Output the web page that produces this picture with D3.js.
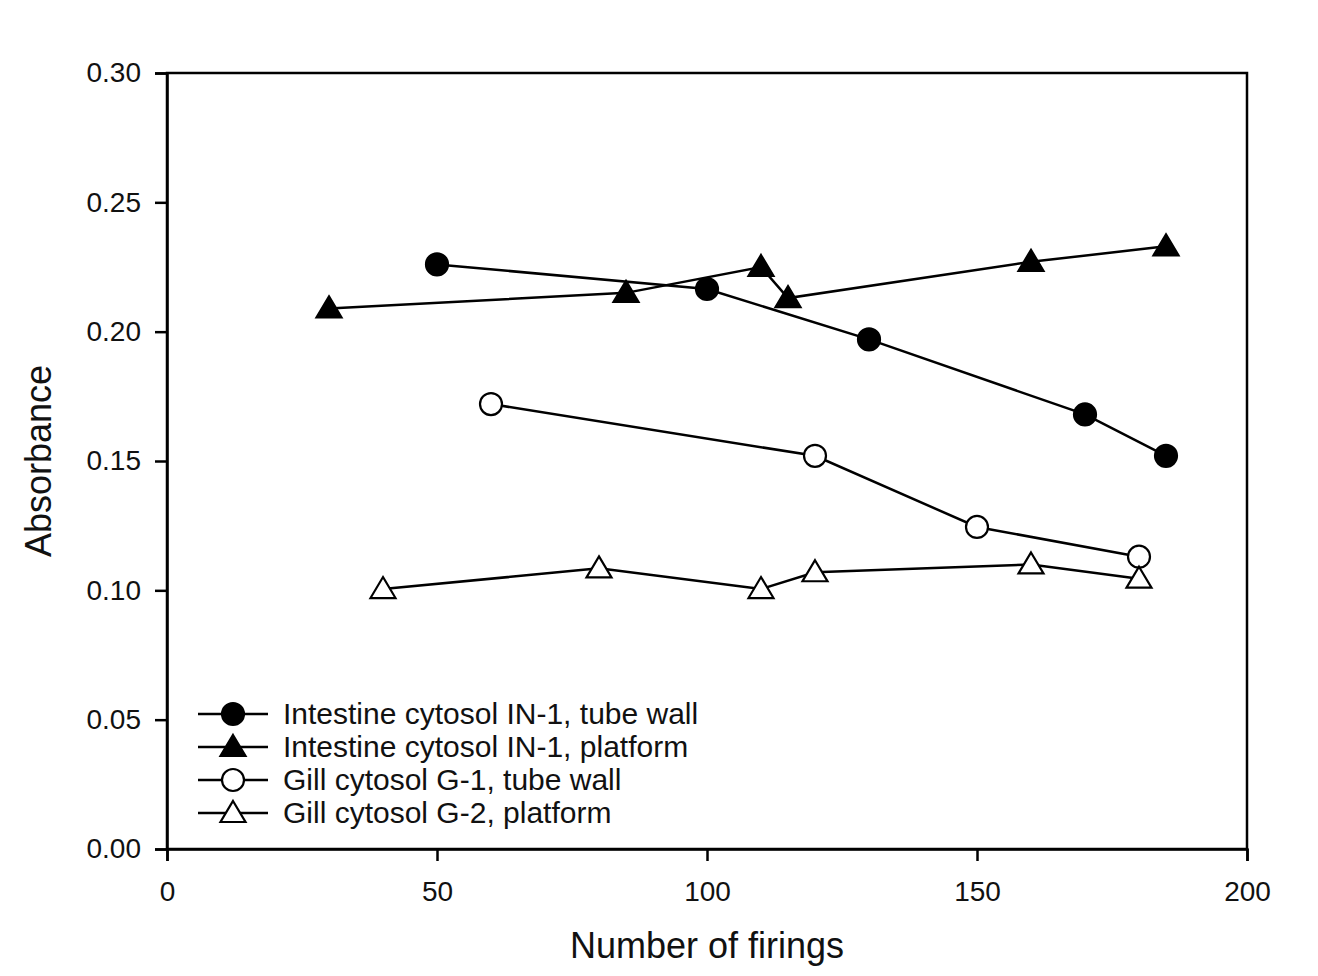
<!DOCTYPE html>
<html>
<head>
<meta charset="utf-8">
<script src="https://cdn.jsdelivr.net/npm/d3@7"></script>
<style>
  body { margin: 0; background: #fff; }
  text { font-family: "Liberation Sans", Arial, sans-serif; fill: #111; }
</style>
</head>
<body>
<div id="chart"></div>
<script>
//Data
var inTubeX = [50, 100, 130, 170, 185];
var inTubeY = [0.226, 0.2165, 0.197, 0.168, 0.152];
var inPlatX = [30, 85, 110, 115, 160, 185];
var inPlatY = [0.209, 0.215, 0.225, 0.213, 0.227, 0.233];
var gTubeX = [60, 120, 150, 180];
var gTubeY = [0.172, 0.152, 0.1245, 0.113];
var gPlatX = [40, 80, 110, 120, 160, 180];
var gPlatY = [0.1005, 0.1085, 0.1005, 0.107, 0.110, 0.1045];

var xTicks = [0, 50, 100, 150, 200];
var yTicks = [0, 0.05, 0.10, 0.15, 0.20, 0.25, 0.30];

var seriesNames = ["Intestine cytosol IN-1, tube wall", "Intestine cytosol IN-1, platform",
                   "Gill cytosol G-1, tube wall", "Gill cytosol G-2, platform"];

//Layout
var W = 1318, H = 976;
var plotLeft = 167, plotRight = 1247, plotTop = 73, plotBottom = 849;

var svg = d3.select("#chart").append("svg")
    .attr("width", W)
    .attr("height", H);

var x = d3.scaleLinear().domain([0, 200]).range([plotLeft, plotRight]);
var y = d3.scaleLinear().domain([0, 0.30]).range([plotBottom, plotTop]);

//Frame
svg.append("rect")
    .attr("x", plotLeft).attr("y", plotTop)
    .attr("width", plotRight - plotLeft).attr("height", plotBottom - plotTop)
    .attr("fill", "none").attr("stroke", "#000").attr("stroke-width", 2.5);

//Axes
var xAxis = svg.append("g")
    .attr("transform", "translate(0," + plotBottom + ")")
    .call(d3.axisBottom(x).tickValues(xTicks).tickSize(12).tickPadding(20).tickFormat(d3.format("d")));
var yAxis = svg.append("g")
    .attr("transform", "translate(" + plotLeft + ",0)")
    .call(d3.axisLeft(y).tickValues(yTicks).tickSize(12).tickPadding(14).tickFormat(d3.format(".2f")));

[xAxis, yAxis].forEach(function (a) {
    a.attr("font-size", 28).attr("font-family", "Liberation Sans, Arial, sans-serif");
    a.select(".domain").attr("stroke", "#000").attr("stroke-width", 2.5);
    a.selectAll(".tick line").attr("stroke", "#000").attr("stroke-width", 2.5);
    a.selectAll(".tick text").attr("fill", "#111");
});

//Axis titles
svg.append("text")
    .attr("x", (plotLeft + plotRight) / 2).attr("y", 958)
    .attr("text-anchor", "middle").attr("font-size", 36)
    .text("Number of firings");
svg.append("text")
    .attr("transform", "translate(51," + ((plotTop + plotBottom) / 2) + ") rotate(-90)")
    .attr("text-anchor", "middle").attr("font-size", 36)
    .text("Absorbance");

//Markers
var circleR = 11;
var triPath = "M0,-12 L12.5,9 L-12.5,9 Z";

function drawMarker(g, cx, cy, shape, filled) {
    if (shape == "circle") {
        g.append("circle")
            .attr("cx", cx).attr("cy", cy).attr("r", circleR)
            .attr("fill", filled ? "#000" : "#fff")
            .attr("stroke", "#000").attr("stroke-width", 2.2);
    } else {
        g.append("path")
            .attr("d", triPath)
            .attr("transform", "translate(" + cx + "," + cy + ")")
            .attr("fill", filled ? "#000" : "#fff")
            .attr("stroke", "#000").attr("stroke-width", 2.2);
    }
}

var series = [
    {xs: inTubeX, ys: inTubeY, shape: "circle", filled: true},
    {xs: inPlatX, ys: inPlatY, shape: "triangle", filled: true},
    {xs: gTubeX, ys: gTubeY, shape: "circle", filled: false},
    {xs: gPlatX, ys: gPlatY, shape: "triangle", filled: false}
];

var line = d3.line()
    .x(function (d) { return x(d[0]); })
    .y(function (d) { return y(d[1]); });

series.forEach(function (s) {
    var pts = d3.zip(s.xs, s.ys);
    svg.append("path")
        .datum(pts)
        .attr("d", line)
        .attr("fill", "none").attr("stroke", "#000").attr("stroke-width", 2.5);
    var g = svg.append("g");
    pts.forEach(function (p) {
        drawMarker(g, x(p[0]), y(p[1]), s.shape, s.filled);
    });
});

//Legend
var legX1 = 198, legX2 = 268, legY0 = 714, legStep = 33;
series.forEach(function (s, i) {
    var ly = legY0 + i * legStep;
    var g = svg.append("g");
    g.append("line")
        .attr("x1", legX1).attr("x2", legX2).attr("y1", ly).attr("y2", ly)
        .attr("stroke", "#000").attr("stroke-width", 2.5);
    drawMarker(g, (legX1 + legX2) / 2, ly, s.shape, s.filled);
    g.append("text")
        .attr("x", 283).attr("y", ly + 10)
        .attr("font-size", 30)
        .text(seriesNames[i]);
});
</script>
</body>
</html>
